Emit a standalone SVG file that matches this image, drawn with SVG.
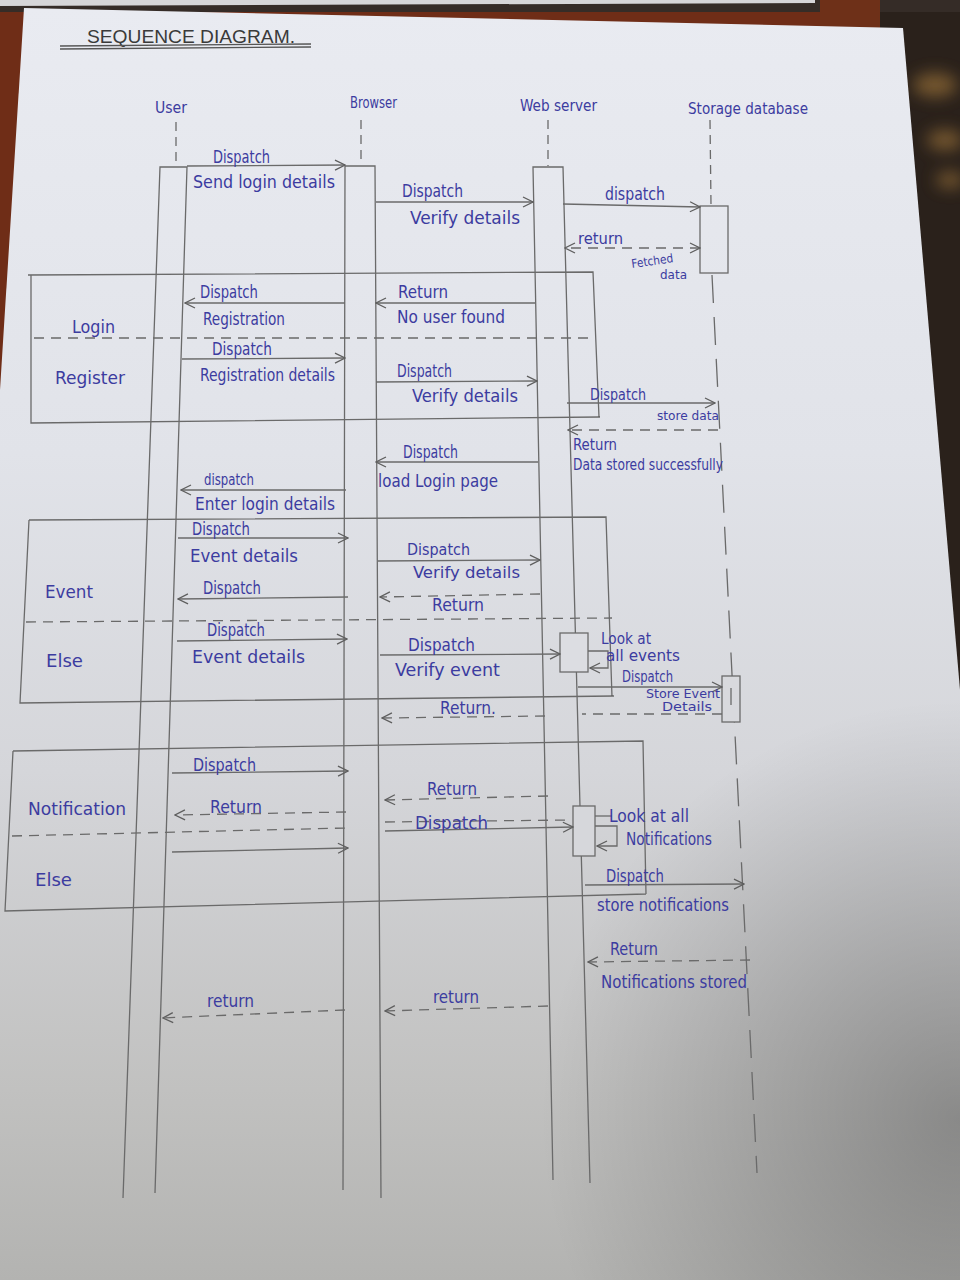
<svg xmlns="http://www.w3.org/2000/svg" width="960" height="1280" viewBox="0 0 960 1280">
  <defs>
    <linearGradient id="paperShade" x1="0" y1="0" x2="0" y2="1">
      <stop offset="0" stop-color="#e9ebf1"/>
      <stop offset="0.35" stop-color="#e1e3e9"/>
      <stop offset="0.6" stop-color="#d5d6da"/>
      <stop offset="0.85" stop-color="#c1c1c0"/>
      <stop offset="1" stop-color="#b3b3b1"/>
    </linearGradient>
    <radialGradient id="cornerShadow" cx="960" cy="1120" r="420" gradientUnits="userSpaceOnUse">
      <stop offset="0" stop-color="#000" stop-opacity="0.28"/>
      <stop offset="1" stop-color="#000" stop-opacity="0"/>
    </radialGradient>
    <filter id="soft" x="-50%" y="-50%" width="200%" height="200%">
      <feGaussianBlur stdDeviation="8"/>
    </filter>
    <marker id="open" viewBox="0 0 12 12" refX="11" refY="6" markerWidth="12" markerHeight="12" markerUnits="userSpaceOnUse" orient="auto-start-reverse">
      <path d="M1,1 L11,6 L1,11" fill="none" stroke="#5e5e5e" stroke-width="1.3"/>
    </marker>
    <style>
      .pen { stroke: #6a6a6a; stroke-width: 1.3; fill: none; }
      .dash { stroke-dasharray: 10 7; }
      .lifedash { stroke-dasharray: 9 6; }
      .longdash { stroke-dasharray: 28 14; }
      .arrow { marker-end: url(#open); }
      .ink { fill: #3c3ca0; font-family: "Liberation Sans Narrow", "DejaVu Sans Condensed", "Liberation Sans", sans-serif; font-size: 18px; }
      .sm { font-size: 15px; }
      .xs { font-size: 12px; }
      .title { fill: #3a3a3a; font-family: "Liberation Sans", sans-serif; font-size: 19px; }
    </style>
  </defs>

  <!-- table and surroundings -->
  <rect x="0" y="0" width="960" height="1280" fill="#6f2d17"/>
  <rect x="840" y="0" width="120" height="760" fill="#2a211b"/>
  <rect x="0" y="0" width="960" height="12" fill="#352c27"/>
  <polygon points="0,0 815,0 815,3 0,6" fill="#d6d6d8"/>
  <rect x="820" y="0" width="60" height="30" fill="#6e3018"/>
  <g filter="url(#soft)" fill="#8a6634" opacity="0.8">
    <ellipse cx="935" cy="85" rx="22" ry="12"/>
    <ellipse cx="945" cy="140" rx="18" ry="10"/>
    <ellipse cx="950" cy="180" rx="14" ry="8"/>
  </g>

  <!-- paper sheet -->
  <polygon points="24,8 903,28 960,690 960,1280 0,1280 0,390" fill="url(#paperShade)"/>
  <polygon points="24,8 903,28 960,690 960,1280 0,1280 0,390" fill="url(#cornerShadow)"/>

  <!-- heading -->
  <g id="title">
    <text class="title" x="87" y="43" textLength="208" lengthAdjust="spacingAndGlyphs">SEQUENCE  DIAGRAM.</text>
    <line class="pen" x1="60" y1="46" x2="311" y2="44" style="stroke:#555"/>
    <line class="pen" x1="60" y1="49" x2="311" y2="47" style="stroke:#555"/>
  </g>

  <!-- participants with their lifelines and activation bars -->
  <g id="user">
    <text class="ink sm" x="155" y="113" textLength="32" lengthAdjust="spacingAndGlyphs">User</text>
    <line class="pen lifedash" x1="176" y1="122" x2="176" y2="166"/>
    <path class="pen" d="M123,1198 L160,167 L187,167 L155,1193"/>
  </g>
  <g id="browser">
    <text class="ink sm" x="350" y="108" textLength="47" lengthAdjust="spacingAndGlyphs">Browser</text>
    <line class="pen lifedash" x1="361" y1="120" x2="361" y2="165"/>
    <path class="pen" d="M343,1190 L345,166 L375,166 L381,1198"/>
  </g>
  <g id="web-server">
    <text class="ink sm" x="520" y="111" textLength="77" lengthAdjust="spacingAndGlyphs">Web server</text>
    <line class="pen lifedash" x1="548" y1="120" x2="548" y2="166"/>
    <path class="pen" d="M553,1180 L533,167 L563,167 L590,1183"/>
    <rect class="pen" x="560" y="633" width="28" height="39" style="fill:#dcdde2"/>
    <rect class="pen" x="573" y="806" width="22" height="50" style="fill:#d6d7db"/>
  </g>
  <g id="storage-database">
    <text class="ink sm" x="688" y="114" textLength="120" lengthAdjust="spacingAndGlyphs">Storage database</text>
    <line class="pen lifedash" x1="710" y1="120" x2="711" y2="205"/>
    <rect class="pen" x="700" y="206" width="28" height="67"/>
    <line class="pen longdash" x1="712" y1="275" x2="757" y2="1173"/>
    <rect class="pen" x="722" y="676" width="18" height="46" style="fill:#d8d9dd"/>
    <line class="pen" x1="731" y1="688" x2="731" y2="705"/>
  </g>

  <!-- combined fragments -->
  <g id="fragment-login-register">
    <path class="pen" d="M28,275 L593,272 L599,417 M31,275 L31,423 L600,417"/>
    <line class="pen dash" x1="34" y1="338" x2="590" y2="338"/>
    <text class="ink" x="72" y="333" textLength="43" lengthAdjust="spacingAndGlyphs">Login</text>
    <text class="ink" x="55" y="384" textLength="70" lengthAdjust="spacingAndGlyphs">Register</text>
  </g>
  <g id="fragment-event-else">
    <path class="pen" d="M29,520 L606,517 L612,697 M29,520 L20,703 L614,696"/>
    <line class="pen dash" x1="26" y1="622" x2="612" y2="618"/>
    <text class="ink" x="45" y="598" textLength="48" lengthAdjust="spacingAndGlyphs">Event</text>
    <text class="ink" x="46" y="667" textLength="37" lengthAdjust="spacingAndGlyphs">Else</text>
  </g>
  <g id="fragment-notification-else">
    <path class="pen" d="M13,751 L643,741 L646,894 M13,751 L5,911 L646,894"/>
    <line class="pen dash" x1="12" y1="836" x2="346" y2="828"/>
    <text class="ink" x="28" y="815" textLength="98" lengthAdjust="spacingAndGlyphs">Notification</text>
    <text class="ink" x="35" y="886" textLength="37" lengthAdjust="spacingAndGlyphs">Else</text>
  </g>

  <!-- messages -->
  <g id="connectors">
    <line class="pen arrow" x1="187" y1="166" x2="345" y2="165"/>
    <line class="pen arrow" x1="376" y1="202" x2="533" y2="202"/>
    <line class="pen arrow" x1="563" y1="204" x2="700" y2="207"/>
    <line class="pen dash arrow" x1="700" y1="248" x2="565" y2="248" style="marker-start:url(#open)"/>

    <line class="pen arrow" x1="345" y1="303" x2="185" y2="303"/>
    <line class="pen arrow" x1="535" y1="303" x2="376" y2="303"/>
    <line class="pen arrow" x1="182" y1="359" x2="345" y2="358"/>
    <line class="pen arrow" x1="376" y1="382" x2="537" y2="381"/>
    <line class="pen arrow" x1="567" y1="403" x2="715" y2="403"/>

    <line class="pen dash arrow" x1="718" y1="430" x2="568" y2="430"/>
    <line class="pen arrow" x1="538" y1="462" x2="376" y2="462"/>
    <line class="pen arrow" x1="346" y1="490" x2="181" y2="490"/>

    <line class="pen arrow" x1="178" y1="538" x2="348" y2="538"/>
    <line class="pen arrow" x1="378" y1="561" x2="540" y2="560"/>
    <line class="pen arrow" x1="348" y1="597" x2="178" y2="599"/>
    <line class="pen dash arrow" x1="540" y1="594" x2="380" y2="597"/>
    <line class="pen arrow" x1="177" y1="641" x2="347" y2="639"/>
    <line class="pen arrow" x1="380" y1="655" x2="560" y2="654"/>
    <path class="pen arrow" d="M588,651 L608,651 L608,668 L590,668"/>
    <line class="pen arrow" x1="578" y1="687" x2="722" y2="687"/>
    <line class="pen dash" x1="722" y1="714" x2="582" y2="714"/>
    <line class="pen dash arrow" x1="545" y1="716" x2="382" y2="718"/>

    <line class="pen arrow" x1="172" y1="773" x2="348" y2="771"/>
    <line class="pen dash arrow" x1="548" y1="796" x2="385" y2="800"/>
    <line class="pen dash arrow" x1="346" y1="812" x2="175" y2="815"/>
    <line class="pen dash" x1="385" y1="822" x2="570" y2="820"/>
    <line class="pen arrow" x1="385" y1="831" x2="573" y2="827"/>
    <line class="pen" x1="595" y1="816" x2="612" y2="816"/>
    <path class="pen arrow" d="M595,826 L617,826 L617,846 L597,846"/>
    <line class="pen arrow" x1="172" y1="852" x2="348" y2="848"/>
    <line class="pen arrow" x1="585" y1="885" x2="744" y2="884"/>
    <line class="pen dash arrow" x1="750" y1="960" x2="588" y2="962"/>

    <line class="pen dash arrow" x1="345" y1="1010" x2="163" y2="1018"/>
    <line class="pen dash arrow" x1="548" y1="1006" x2="385" y2="1011"/>
  </g>

  <!-- message labels -->
  <g id="labels">
    <text class="ink" x="213" y="163" textLength="57" lengthAdjust="spacingAndGlyphs">Dispatch</text>
    <text class="ink" x="193" y="188" textLength="142" lengthAdjust="spacingAndGlyphs">Send login details</text>
    <text class="ink" x="402" y="197" textLength="61" lengthAdjust="spacingAndGlyphs">Dispatch</text>
    <text class="ink" x="410" y="224" textLength="110" lengthAdjust="spacingAndGlyphs">Verify details</text>
    <text class="ink" x="605" y="200" textLength="60" lengthAdjust="spacingAndGlyphs">dispatch</text>
    <text class="ink sm" x="578" y="244" textLength="45" lengthAdjust="spacingAndGlyphs">return</text>
    <text class="ink xs" x="632" y="268" textLength="42" lengthAdjust="spacingAndGlyphs" transform="rotate(-8 632 268)">Fetched</text>
    <text class="ink xs" x="660" y="279" textLength="27" lengthAdjust="spacingAndGlyphs">data</text>

    <text class="ink" x="200" y="298" textLength="58" lengthAdjust="spacingAndGlyphs">Dispatch</text>
    <text class="ink" x="203" y="325" textLength="82" lengthAdjust="spacingAndGlyphs">Registration</text>
    <text class="ink" x="398" y="298" textLength="50" lengthAdjust="spacingAndGlyphs">Return</text>
    <text class="ink" x="397" y="323" textLength="108" lengthAdjust="spacingAndGlyphs">No user found</text>
    <text class="ink" x="212" y="355" textLength="60" lengthAdjust="spacingAndGlyphs">Dispatch</text>
    <text class="ink" x="200" y="381" textLength="135" lengthAdjust="spacingAndGlyphs">Registration details</text>
    <text class="ink" x="397" y="377" textLength="55" lengthAdjust="spacingAndGlyphs">Dispatch</text>
    <text class="ink" x="412" y="402" textLength="106" lengthAdjust="spacingAndGlyphs">Verify details</text>
    <text class="ink sm" x="590" y="400" textLength="56" lengthAdjust="spacingAndGlyphs">Dispatch</text>
    <text class="ink xs" x="657" y="420" textLength="62" lengthAdjust="spacingAndGlyphs">store data</text>

    <text class="ink sm" x="573" y="450" textLength="44" lengthAdjust="spacingAndGlyphs">Return</text>
    <text class="ink sm" x="573" y="470" textLength="150" lengthAdjust="spacingAndGlyphs">Data stored successfully</text>
    <text class="ink" x="403" y="458" textLength="55" lengthAdjust="spacingAndGlyphs">Dispatch</text>
    <text class="ink" x="378" y="487" textLength="120" lengthAdjust="spacingAndGlyphs">load Login page</text>
    <text class="ink sm" x="204" y="485" textLength="50" lengthAdjust="spacingAndGlyphs">dispatch</text>
    <text class="ink" x="195" y="510" textLength="140" lengthAdjust="spacingAndGlyphs">Enter login details</text>

    <text class="ink" x="192" y="535" textLength="58" lengthAdjust="spacingAndGlyphs">Dispatch</text>
    <text class="ink" x="190" y="562" textLength="108" lengthAdjust="spacingAndGlyphs">Event details</text>
    <text class="ink sm" x="407" y="555" textLength="63" lengthAdjust="spacingAndGlyphs">Dispatch</text>
    <text class="ink sm" x="413" y="578" textLength="107" lengthAdjust="spacingAndGlyphs">Verify details</text>
    <text class="ink" x="203" y="594" textLength="58" lengthAdjust="spacingAndGlyphs">Dispatch</text>
    <text class="ink" x="432" y="611" textLength="52" lengthAdjust="spacingAndGlyphs">Return</text>
    <text class="ink" x="207" y="636" textLength="58" lengthAdjust="spacingAndGlyphs">Dispatch</text>
    <text class="ink" x="192" y="663" textLength="113" lengthAdjust="spacingAndGlyphs">Event details</text>
    <text class="ink" x="408" y="651" textLength="67" lengthAdjust="spacingAndGlyphs">Dispatch</text>
    <text class="ink" x="395" y="676" textLength="105" lengthAdjust="spacingAndGlyphs">Verify event</text>
    <text class="ink sm" x="601" y="644" textLength="50" lengthAdjust="spacingAndGlyphs">Look at</text>
    <text class="ink sm" x="606" y="661" textLength="74" lengthAdjust="spacingAndGlyphs">all events</text>
    <text class="ink sm" x="622" y="682" textLength="51" lengthAdjust="spacingAndGlyphs">Dispatch</text>
    <text class="ink xs" x="646" y="698" textLength="74" lengthAdjust="spacingAndGlyphs">Store Event</text>
    <text class="ink xs" x="662" y="711" textLength="50" lengthAdjust="spacingAndGlyphs">Details</text>
    <text class="ink" x="440" y="714" textLength="56" lengthAdjust="spacingAndGlyphs">Return.</text>

    <text class="ink" x="193" y="771" textLength="63" lengthAdjust="spacingAndGlyphs">Dispatch</text>
    <text class="ink" x="427" y="795" textLength="50" lengthAdjust="spacingAndGlyphs">Return</text>
    <text class="ink" x="210" y="813" textLength="52" lengthAdjust="spacingAndGlyphs">Return</text>
    <text class="ink" x="415" y="829" textLength="73" lengthAdjust="spacingAndGlyphs">Dispatch</text>
    <text class="ink" x="609" y="822" textLength="80" lengthAdjust="spacingAndGlyphs">Look at all</text>
    <text class="ink" x="626" y="845" textLength="86" lengthAdjust="spacingAndGlyphs">Notifications</text>
    <text class="ink" x="606" y="882" textLength="58" lengthAdjust="spacingAndGlyphs">Dispatch</text>
    <text class="ink" x="597" y="911" textLength="132" lengthAdjust="spacingAndGlyphs">store notifications</text>
    <text class="ink" x="610" y="955" textLength="48" lengthAdjust="spacingAndGlyphs">Return</text>
    <text class="ink" x="601" y="988" textLength="146" lengthAdjust="spacingAndGlyphs">Notifications stored</text>

    <text class="ink" x="207" y="1007" textLength="47" lengthAdjust="spacingAndGlyphs">return</text>
    <text class="ink" x="433" y="1003" textLength="46" lengthAdjust="spacingAndGlyphs">return</text>
  </g>
</svg>
